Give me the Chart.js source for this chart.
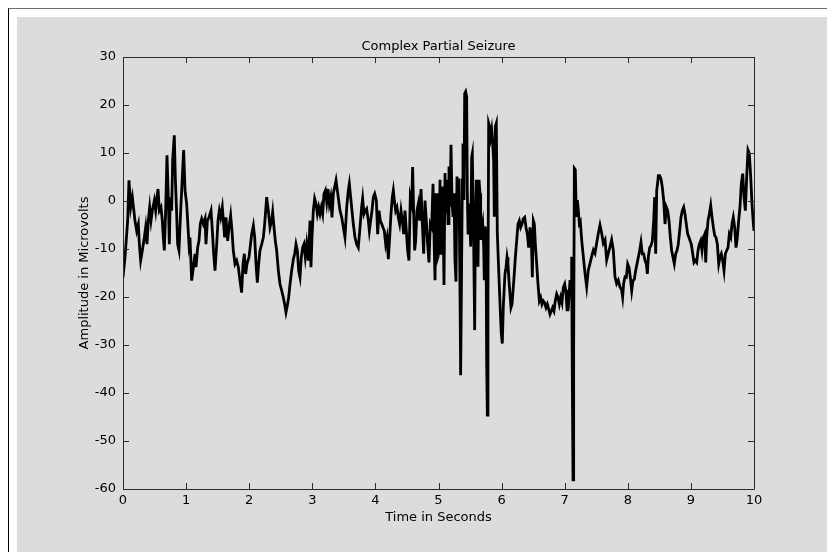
<!DOCTYPE html>
<html>
<head>
<meta charset="utf-8">
<script src="https://cdn.jsdelivr.net/npm/chart.js@4.4.1/dist/chart.umd.min.js"></script>
<style>
    html, body { margin: 0; padding: 0; background: #ffffff; }
    #page { position: relative; width: 827px; height: 552px; overflow: hidden; }
    #frame { position: absolute; left: 8px; top: 8px; right: 0; bottom: 0;
             border-top: 1px solid #6e6e6e; border-left: 1px solid #000000; }
    #panel { position: absolute; left: 17px; top: 17px; right: 0; bottom: 0; background: #dcdcdc; }
    #eegChart { position: absolute; left: 0; top: 0; }
</style>
</head>
<body>
<div id="page">
    <div id="frame"></div>
    <div id="panel"></div>
    <canvas id="eegChart" width="827" height="552"></canvas>
</div>
<script>
// Sample times (seconds)
const timeSec = [
    0.000, 0.032, 0.074, 0.095, 0.122, 0.148, 0.190, 0.217, 0.243, 0.259, 0.280, 0.306, 0.338, 0.359, 0.380,
    0.401, 0.423, 0.444, 0.465, 0.497, 0.518, 0.539, 0.555, 0.576, 0.602, 0.623, 0.639, 0.655, 0.676, 0.697,
    0.718, 0.734, 0.750, 0.771, 0.787, 0.813, 0.829, 0.845, 0.866, 0.887, 0.914, 0.930, 0.961, 0.983,
    1.009, 1.046, 1.062, 1.088, 1.115, 1.141, 1.157, 1.183, 1.204, 1.225, 1.247, 1.273, 1.300, 1.315, 1.337,
    1.363, 1.395, 1.416, 1.437, 1.458, 1.485, 1.506, 1.527, 1.548, 1.574, 1.595, 1.611, 1.632, 1.659, 1.680,
    1.706, 1.727, 1.748, 1.775, 1.801, 1.828, 1.854, 1.880, 1.902, 1.923, 1.944, 1.965, 1.997,
    2.039, 2.066, 2.087, 2.108, 2.129, 2.150, 2.171, 2.198, 2.224, 2.245, 2.261, 2.277, 2.303, 2.330, 2.356,
    2.372, 2.393, 2.414, 2.435, 2.462, 2.488, 2.515, 2.541, 2.562, 2.583, 2.604, 2.625, 2.647, 2.673, 2.700,
    2.721, 2.742, 2.763, 2.784, 2.805, 2.826, 2.847, 2.868, 2.889, 2.911, 2.937, 2.964, 2.979, 2.995,
    3.016, 3.037, 3.059, 3.080, 3.101, 3.122, 3.143, 3.164, 3.185, 3.207, 3.228, 3.249, 3.270, 3.291, 3.312,
    3.333, 3.355, 3.376, 3.397, 3.418, 3.439, 3.466, 3.492, 3.518, 3.545, 3.571, 3.587, 3.608, 3.629, 3.650,
    3.677, 3.703, 3.729, 3.756, 3.782, 3.798, 3.819, 3.840, 3.861, 3.888, 3.904, 3.925, 3.946, 3.967, 3.989,
    4.015, 4.036, 4.057, 4.078, 4.100, 4.120, 4.141, 4.163, 4.184, 4.205, 4.226, 4.247, 4.268, 4.284, 4.300,
    4.321, 4.342, 4.363, 4.384, 4.406, 4.427, 4.448, 4.469, 4.490, 4.511, 4.532, 4.553, 4.575, 4.590, 4.606,
    4.622, 4.638, 4.659, 4.680, 4.701, 4.723, 4.744, 4.765, 4.786, 4.807, 4.828, 4.849, 4.870, 4.892, 4.913,
    4.934, 4.945, 4.961, 4.976, 4.992,
    5.008, 5.024, 5.040, 5.055, 5.071, 5.087, 5.103, 5.119, 5.135, 5.151, 5.166, 5.182, 5.198, 5.214, 5.230,
    5.246, 5.261, 5.277, 5.293, 5.309, 5.325, 5.341, 5.351, 5.367, 5.378, 5.388, 5.404, 5.415, 5.430, 5.446,
    5.457, 5.468, 5.483, 5.499, 5.510, 5.526, 5.536, 5.552, 5.563, 5.573, 5.584, 5.600, 5.615, 5.626, 5.642,
    5.658, 5.668, 5.684, 5.700, 5.716, 5.726, 5.737, 5.753, 5.763, 5.774, 5.784, 5.795, 5.810, 5.826, 5.842,
    5.858, 5.874, 5.884, 5.900, 5.916, 5.932, 5.948, 5.964, 5.979, 5.995,
    6.011, 6.027, 6.043, 6.054, 6.070, 6.086, 6.101, 6.117, 6.133, 6.149, 6.165, 6.181, 6.197, 6.218, 6.239,
    6.260, 6.281, 6.302, 6.323, 6.344, 6.366, 6.387, 6.408, 6.429, 6.450, 6.471, 6.487, 6.503, 6.519, 6.535,
    6.556, 6.577, 6.598, 6.619, 6.640, 6.661, 6.682, 6.704, 6.725, 6.746, 6.767, 6.788, 6.809, 6.830, 6.851,
    6.873, 6.894, 6.915, 6.936, 6.957, 6.978, 7.000,
    7.021, 7.037, 7.052, 7.068, 7.084, 7.100, 7.110, 7.121, 7.132, 7.142, 7.153, 7.168, 7.184, 7.200, 7.216,
    7.232, 7.248, 7.269, 7.295, 7.322, 7.348, 7.374, 7.401, 7.427, 7.454, 7.480, 7.506, 7.533, 7.559, 7.586,
    7.612, 7.639, 7.665, 7.691, 7.718, 7.744, 7.770, 7.797, 7.823, 7.849, 7.876, 7.902, 7.918, 7.934, 7.956,
    7.977, 7.998,
    8.019, 8.040, 8.062, 8.082, 8.103, 8.125, 8.146, 8.167, 8.188, 8.209, 8.230, 8.252, 8.273, 8.294, 8.310,
    8.325, 8.347, 8.368, 8.389, 8.410, 8.426, 8.442, 8.458, 8.474, 8.484, 8.505, 8.526, 8.547, 8.569, 8.590,
    8.611, 8.632, 8.653, 8.674, 8.695, 8.716, 8.737, 8.759, 8.780, 8.800, 8.822, 8.843, 8.864, 8.886, 8.906,
    8.927, 8.949, 8.970,
    9.006, 9.029, 9.049, 9.070, 9.092, 9.113, 9.134, 9.155, 9.176, 9.197, 9.219, 9.235, 9.250, 9.271, 9.292,
    9.314, 9.335, 9.356, 9.377, 9.398, 9.419, 9.441, 9.461, 9.482, 9.504, 9.525, 9.546, 9.567, 9.588, 9.609,
    9.631, 9.651, 9.672, 9.694, 9.715, 9.736, 9.757, 9.778, 9.799, 9.821, 9.842, 9.863, 9.884, 9.905, 9.926,
    9.948, 9.968, 9.990, 10.000
];

// Amplitude (microvolts) at each sample time
const microvolts = [
    -15.9, -11.7, -4.1, 4.3, -1.3, 0.8, -4.1, -6.2, -4.8, -9.0, -12.4, -10.3, -7.6, -5.5, -9.0,
    -4.1, -1.3, -4.1, -2.0, 0.1, -2.0, 0.8, 2.5, -2.0, -1.3, -4.1, -7.6, -10.3, -2.0, 9.5,
    0.8, -9.0, 0.8, -2.0, 8.5, 13.7, 5.0, -0.6, -9.0, -10.3, -2.0, 2.2, 10.6, 2.2,
    -0.6, -9.0, -7.6, -16.6, -13.8, -11.0, -13.8, -9.7, -8.3, -4.8, -3.7, -4.8, -3.7, -9.0, -4.1,
    -3.4, -2.0, -6.2, -11.0, -14.5, -9.0, -4.1, -2.0, -3.4, -1.3, -4.8, -7.6, -3.4, -8.3, -5.5,
    -3.0, -6.2, -10.3, -13.1, -12.4, -13.8, -16.6, -19.1, -13.1, -11.0, -15.2, -13.1, -11.7,
    -6.9, -5.1, -7.6, -13.1, -17.0, -13.1, -10.3, -9.0, -7.6, -4.8, -2.0, 0.8, -2.0, -5.5, -4.1,
    -2.3, -5.5, -8.3, -10.3, -14.5, -17.3, -18.7, -20.1, -21.5, -23.2, -21.8, -20.1, -17.3, -14.5, -12.1,
    -11.0, -9.0, -10.3, -14.5, -15.9, -11.7, -9.7, -9.0, -11.7, -9.0, -12.4, -4.1, -13.8, -7.6,
    -2.0, 0.5, -0.6, -2.7, -1.3, -2.7, -1.3, -2.7, 1.5, 2.2, -0.2, 2.5, -0.6, 0.8, -3.4,
    1.5, 2.9, 4.3, 2.2, 0.1, -2.0, -3.4, -5.5, -7.6, -1.3, 2.2, 3.6, 0.8, -2.0, -4.8,
    -7.6, -9.0, -9.7, -5.5, -1.3, 0.5, -2.7, -2.0, -1.6, -4.1, -6.2, -4.1, -2.0, 0.8, 1.5,
    0.1, -6.9, -2.0, -4.1, -4.8, -5.5, -6.2, -9.0, -7.6, -12.1, -7.6, -2.7, 0.8, 2.2, 0.1,
    -2.0, -1.3, -3.4, -4.8, -2.0, -4.1, -6.9, -2.0, -6.2, -10.3, -12.4, 0.8, -0.6, 7.1, -2.0,
    -10.3, -8.3, -2.0, -0.6, -4.1, 2.5, -4.8, -11.0, 0.1, -4.1, -9.0, -12.8, -4.8, -5.5, 3.6,
    -10.3, -16.5, 1.6, -12.3, -11.6,
    -9.5, 4.4, -10.9, 3.0, -1.2, -17.5, 5.8, -2.6, 4.4, -4.7, 7.2, -1.2, 11.7, 0.2, -3.3,
    1.6, -12.3, -16.8, 5.1, -3.3, 4.7, -19.2, -36.3, -12.3, 4.4, 12.0, 0.2, 22.4, 22.8, 21.7,
    1.6, -6.7, -0.5, -5.3, -9.5, 9.2, 9.9, -3.3, -15.1, -26.9, -6.7, 4.4, 1.6, -13.7, 4.4,
    1.6, -8.1, -6.0, -4.7, -9.5, -16.5, -5.3, -6.7, -33.1, -44.6, -19.2, 16.2, 15.5, 13.4, 14.8,
    12.0, 8.5, -3.3, 15.5, 16.2, -6.7, -12.3, -17.8, -22.7, -27.6,
    -29.7, -22.0, -17.8, -15.2, -13.8, -11.7, -13.1, -16.6, -19.4, -22.2, -21.5, -18.7, -15.9, -11.7, -8.3,
    -4.8, -4.1, -5.5, -4.8, -3.7, -3.4, -5.5, -6.9, -9.7, -5.5, -7.6, -15.9, -4.1, -4.8, -9.0,
    -13.1, -17.3, -20.8, -20.1, -21.5, -20.8, -21.2, -22.2, -21.5, -22.5, -23.6, -22.9, -22.2, -22.9, -20.8,
    -19.4, -20.1, -21.5, -20.1, -21.2, -18.0, -17.3,
    -19.2, -22.7, -18.5, -19.9, -16.5, -18.5, -11.6, -38.0, -58.1, -31.0, 6.8, 6.5, -3.3, 0.2, -1.9,
    -4.7, -4.3, -8.1, -11.6, -15.1, -17.9, -14.4, -13.0, -11.6, -10.2, -10.9, -8.8, -6.7, -5.0, -6.7,
    -8.8, -8.1, -12.3, -10.9, -9.5, -8.1, -10.2, -15.8, -17.2, -16.5, -17.9, -18.5, -20.0, -17.2, -15.8,
    -15.9, -13.1,
    -13.8, -15.9, -18.7, -16.6, -16.3, -14.5, -13.1, -11.7, -10.3, -8.6, -11.0, -11.0, -12.4, -13.1, -15.2,
    -11.7, -9.7, -9.3, -8.3, -4.1, 0.8, -11.0, 2.2, 3.9, 5.3, 5.3, 4.6, 2.9, 0.1, -4.8,
    -1.3, -2.0, -4.1, -7.6, -10.3, -11.7, -13.1, -11.0, -10.3, -9.0, -6.2, -3.4, -2.0, -1.3, -2.7,
    -4.8, -6.9, -7.6,
    -9.0, -11.0, -12.8, -12.4, -12.8, -10.3, -9.0, -8.3, -10.3, -7.6, -6.9, -12.8, -7.6, -4.1, -2.7,
    -0.9, -3.4, -5.5, -7.2, -7.6, -9.0, -13.1, -11.7, -11.0, -12.4, -14.5, -11.0, -10.3, -9.7, -6.9,
    -7.6, -4.8, -3.4, -5.5, -9.7, -7.6, -4.1, -1.3, 3.6, 5.7, 0.8, -2.0, 5.0, 10.6, 9.9,
    5.0, -0.6, -4.8, -6.2
];

// Axis ticks
const timeTicks = [0, 1, 2, 3, 4, 5, 6, 7, 8, 9, 10];
const amplitudeTicks = [-60, -50, -40, -30, -20, -10, 0, 10, 20, 30];

const axisColor = '#2a2a2a';
const fontFamily = '"DejaVu Sans", "Liberation Sans", Arial, sans-serif';
const fontSize = 13;

// MATLAB style box with inward ticks on all four sides
const boxPlugin = {
    id: 'matlabBox',
    afterDatasetsDraw(chart) {
        const { ctx, chartArea: a, scales } = chart;
        const len = 6;
        ctx.save();
        ctx.strokeStyle = axisColor;
        ctx.lineWidth = 1;
        ctx.beginPath();
        ctx.rect(Math.round(a.left) + 0.5, Math.round(a.top) + 0.5,
                 Math.round(a.right - a.left), Math.round(a.bottom - a.top));
        timeTicks.forEach(t => {
            const x = Math.round(scales.x.getPixelForValue(t)) + 0.5;
            ctx.moveTo(x, a.bottom); ctx.lineTo(x, a.bottom - len);
            ctx.moveTo(x, a.top); ctx.lineTo(x, a.top + len);
        });
        amplitudeTicks.forEach(v => {
            const y = Math.round(scales.y.getPixelForValue(v)) + 0.5;
            ctx.moveTo(a.left, y); ctx.lineTo(a.left + len, y);
            ctx.moveTo(a.right, y); ctx.lineTo(a.right - len, y);
        });
        ctx.stroke();
        ctx.restore();
    }
};

const points = timeSec.map((t, i) => ({ x: t, y: microvolts[i] }));

new Chart(document.getElementById('eegChart'), {
    type: 'line',
    data: {
        datasets: [{
            data: points,
            borderColor: '#000000',
            borderWidth: 2.8,
            pointRadius: 0,
            tension: 0,
            fill: false
        }]
    },
    options: {
        responsive: false,
        animation: false,
        devicePixelRatio: 1,
        layout: { padding: { left: 0, right: 73, top: 0, bottom: 0 } },
        plugins: {
            legend: { display: false },
            tooltip: { enabled: false }
        },
        scales: {
            x: {
                type: 'linear',
                min: 0,
                max: 10,
                afterFit: (scale) => { scale.height = 63; },
                afterBuildTicks: (scale) => { scale.ticks = timeTicks.map(v => ({ value: v })); },
                grid: { display: false, drawTicks: false },
                border: { display: false },
                ticks: { color: '#000000', padding: 4, maxRotation: 0,
                         font: { family: fontFamily, size: fontSize } },
                title: {
                    display: true,
                    text: 'Time in Seconds',
                    color: '#000000',
                    font: { family: fontFamily, size: fontSize, lineHeight: 1.2 },
                    padding: { top: 0, bottom: 27 }
                }
            },
            // top axis only carries the title, so it centres over the plot box
            xTop: {
                type: 'linear',
                position: 'top',
                min: 0,
                max: 10,
                afterFit: (scale) => { scale.height = 57; },
                grid: { display: false, drawTicks: false },
                border: { display: false },
                ticks: { display: false },
                title: {
                    display: true,
                    text: 'Complex Partial Seizure',
                    color: '#000000',
                    font: { family: fontFamily, size: fontSize, lineHeight: 1.2 },
                    padding: { top: 39, bottom: 0 }
                }
            },
            y: {
                type: 'linear',
                min: -60,
                max: 30,
                afterFit: (scale) => { scale.width = 123; },
                afterBuildTicks: (scale) => { scale.ticks = amplitudeTicks.map(v => ({ value: v })); },
                grid: { display: false, drawTicks: false },
                border: { display: false },
                ticks: { color: '#000000', padding: 7,
                         font: { family: fontFamily, size: fontSize } },
                title: {
                    display: true,
                    text: 'Amplitude in Microvolts',
                    color: '#000000',
                    font: { family: fontFamily, size: fontSize, lineHeight: 1.2 },
                    padding: { top: 77, bottom: 0 }
                }
            }
        }
    },
    plugins: [boxPlugin]
});
</script>
</body>
</html>
